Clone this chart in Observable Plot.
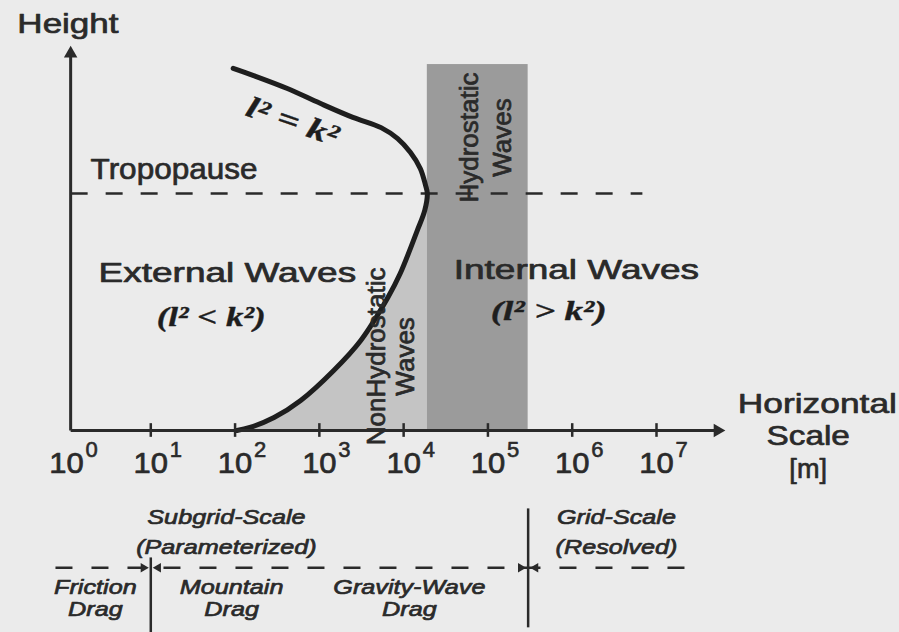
<!DOCTYPE html>
<html><head><meta charset="utf-8">
<script src="https://cdn.jsdelivr.net/npm/d3@7"></script>
<script src="https://cdn.jsdelivr.net/npm/@observablehq/plot@0.6"></script>
<style>
html,body{margin:0;padding:0;background:#ebebeb;}
</style>
</head><body><div id="chart"></div>
<script>
// ---------------- data ----------------
// horizontal scale ticks (m)
const tickValues = [1, 10, 100, 1e3, 1e4, 1e5, 1e6, 1e7];
const tickBase = "10";
const tickExponents = ["0", "1", "2", "3", "4", "5", "6", "7"];

// l^2 = k^2 curve: horizontal scale (m) and height (relative units), from top to bottom
const curveScale  = [95, 166, 417, 1020, 2500, 5400, 8500, 12000, 15800, 18200, 19100, 17800, 14500, 9100, 6500, 3100, 1480, 600, 290, 150, 105];
const curveHeight = [95.3, 93.4, 90.0, 86.1, 82.4, 79.7, 76.8, 73.2, 68.9, 64.5, 62.4, 57.9, 52.6, 41.3, 35.0, 23.7, 15.8, 7.9, 3.4, 0.8, 0];
const vertexIndex = 10;

// hydrostatic band (m) and its top (height units)
const hydrostaticBand = [19100, 300000];
const hydrostaticTop = 96.3;
// tropopause height
const tropopauseHeight = 62.4;
// parameterization boundaries (m)
const frictionLimit = 10;
const gridLimit = 300000;

// --------------- styling ---------------
const sans = "'Liberation Sans', Arial, Helvetica, sans-serif";
const serif = "'Liberation Serif', 'Times New Roman', serif";
const ink = "#2a2a2a";
const yAxisAt = 1.12;
const xAxisEnd = 6.6e7;

const curveData = curveScale.map((x, i) => ({x, h: curveHeight[i]}));
const lowerBranch = curveData.slice(vertexIndex);

function label(text, x, y, o = {}) {
  const {stretch, ...rest} = o;
  return Plot.text([text], {
    x: () => x, y: () => y, text: d => d,
    fill: ink, stroke: ink, strokeWidth: 0.7, paintOrder: "stroke",
    fontFamily: sans, lineAnchor: "bottom", textAnchor: "middle",
    ariaDescription: stretch ? `stretch ${stretch}` : undefined,
    ...rest
  });
}
const formula = {fontFamily: serif, fontWeight: "bold", fontStyle: "italic", fill: "#1e1e1e", stroke: "#1e1e1e", strokeWidth: 0.4};

const svg = Plot.plot({
  width: 899,
  height: 632,
  x: {type: "log", domain: [1, 1e7], range: [66, 656], axis: null},
  y: {domain: [0, 100], range: [430, 50], axis: null},
  style: {background: "#ebebeb", overflow: "visible"},
  marks: [
    // shaded regions
    Plot.areaX(lowerBranch, {y: "h", x1: "x", x2: () => hydrostaticBand[0], fill: "#c4c4c4", curve: "catmull-rom"}),
    Plot.rect([0], {x1: () => hydrostaticBand[0], x2: () => hydrostaticBand[1], y1: () => 0, y2: () => hydrostaticTop, fill: "#9b9b9b"}),
    // tropopause
    Plot.link([tropopauseHeight], {x1: () => yAxisAt, x2: () => 6.8e6, y1: d => d, y2: d => d, stroke: ink, strokeWidth: 2.5, strokeDasharray: "17,18"}),
    // curve
    Plot.line(curveData, {x: "x", y: "h", stroke: "#1e1e1e", strokeWidth: 5, curve: "catmull-rom", strokeLinecap: "round"}),
    // axes
    Plot.link([0], {x1: () => yAxisAt, x2: () => yAxisAt, y1: () => 0, y2: () => 99, stroke: ink, strokeWidth: 3}),
    Plot.link([0], {x1: () => yAxisAt, x2: () => xAxisEnd * 0.85, y1: () => 0, y2: () => 0, stroke: ink, strokeWidth: 3}),
    Plot.dot([0], {x: () => yAxisAt, y: () => 101.3, symbol: "triangle", r: 5, fill: ink, stroke: "none", dy: 8}),
    Plot.dot([0], {x: () => xAxisEnd, y: () => 0, symbol: "triangle", r: 5, fill: ink, stroke: "none", rotate: 90, dx: -8}),
    Plot.ruleX(tickValues.slice(1), {y1: () => -1.8, y2: () => 1.8, stroke: ink, strokeWidth: 2.5}),
    // tick labels
    Plot.text(tickValues, {x: d => d, y: () => -11.3, text: () => tickBase, fontFamily: sans, fontSize: 29.5, fill: ink, stroke: ink, strokeWidth: 0.7, paintOrder: "stroke", lineAnchor: "bottom", textAnchor: "middle", ariaDescription: "stretch 1.05"}),
    Plot.text(tickValues, {x: d => d, y: () => -7.0, text: (d, i) => tickExponents[i], fontFamily: sans, fontSize: 22, fill: ink, stroke: ink, strokeWidth: 0.6, paintOrder: "stroke", lineAnchor: "bottom", textAnchor: "start", dx: 19}),
    // axis titles
    label("Height", 1.04, 104.5, {fontSize: 28, stretch: 1.25}),
    label("Horizontal", 8.1e8, 4.7, {fontSize: 28.5, stretch: 1.24}),
    label("Scale", 6.3e8, -3.7, {fontSize: 28.5, stretch: 1.17}),
    label("[m]", 6.3e8, -12.4, {fontSize: 28.5, stretch: 0.95}),
    // region labels
    label("Tropopause", 1.93, 66.3, {textAnchor: "start", fontSize: 30, stretch: 1.05}),
    label("External Waves", 81, 39.2, {fontSize: 27, stretch: 1.37}),
    label("(l² < k²)", 52, 27.6, {fontSize: 28, ...formula, stretch: 1.25}),
    label("Internal Waves", 1.12e6, 40, {fontSize: 27, stretch: 1.37}),
    label("(l² > k²)", 5.25e5, 29.2, {fontSize: 28, ...formula, stretch: 1.33}),
    label("l² = k²", 480, 81.3, {lineAnchor: "middle", rotate: 19, fontSize: 30, ...formula, stretch: 1.3}),
    label("Hydrostatic\nWaves", 88500, 77.1, {lineAnchor: "middle", rotate: -90, fontSize: 26, lineHeight: 1.27}),
    label("NonHydrostatic\nWaves", 6980, 19.5, {lineAnchor: "middle", rotate: -90, fontSize: 26, lineHeight: 1.08}),
    // lower section
    label("Subgrid-Scale\n(Parameterized)", 79, -32.4, {fontSize: 21, fontStyle: "italic", lineHeight: 1.43, stretch: 1.2}),
    label("Grid-Scale\n(Resolved)", 3.35e6, -32.4, {fontSize: 21, fontStyle: "italic", lineHeight: 1.43, stretch: 1.2}),
    Plot.link([0], {x1: () => 0.74, x2: () => 2.4e7, y1: () => -36.1, y2: () => -36.1, stroke: ink, strokeWidth: 2.5, strokeDasharray: "17,19"}),
    Plot.link([frictionLimit], {x1: d => d, x2: d => d, y1: () => -33.4, y2: () => -53.2, stroke: ink, strokeWidth: 2.5}),
    Plot.link([gridLimit], {x1: d => d, x2: d => d, y1: () => -20.5, y2: () => -51.8, stroke: ink, strokeWidth: 2.5}),
    Plot.dot([frictionLimit, gridLimit], {x: d => d, y: () => -36.1, symbol: "triangle", r: 3.5, fill: ink, stroke: "none", rotate: 90, dx: -7.4}),
    Plot.dot([frictionLimit, gridLimit], {x: d => d, y: () => -36.1, symbol: "triangle", r: 3.5, fill: ink, stroke: "none", rotate: -90, dx: 7.4}),
    label("Friction\nDrag", 2.2, -48.7, {fontSize: 21, fontStyle: "italic", lineHeight: 1.05, stretch: 1.2}),
    label("Mountain\nDrag", 91, -48.7, {fontSize: 21, fontStyle: "italic", lineHeight: 1.05, stretch: 1.2}),
    label("Gravity-Wave\nDrag", 11700, -48.7, {fontSize: 21, fontStyle: "italic", lineHeight: 1.05, stretch: 1.2})
  ]
});

// widen labels horizontally (the original figure is stretched sideways)
svg.querySelectorAll("g[aria-description]").forEach(g => {
  const m = /stretch ([\d.]+)/.exec(g.getAttribute("aria-description") || "");
  if (!m) return;
  g.querySelectorAll("text").forEach(t => {
    const tr = t.getAttribute("transform");
    if (tr) t.setAttribute("transform", tr + ` scale(${m[1]},1)`);
  });
});

document.getElementById("chart").appendChild(svg);
</script>
</body></html>
